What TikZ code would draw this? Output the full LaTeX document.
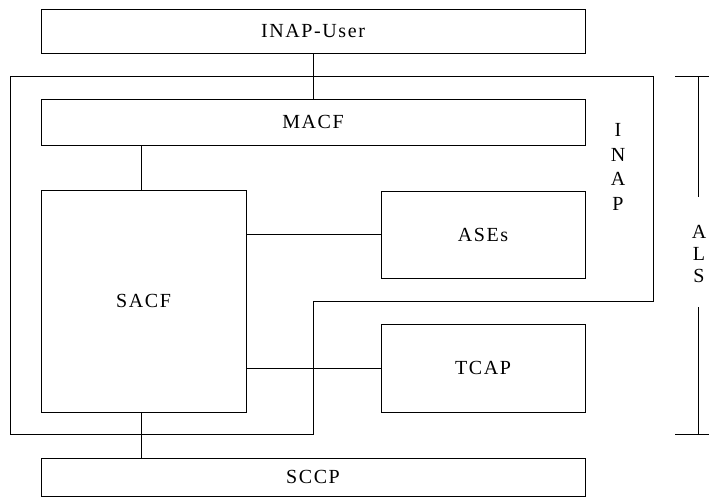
\documentclass[tikz,border=0pt]{standalone}
\usepackage{fontspec}
\setmainfont[LetterSpace=8]{Liberation Serif}
\begin{document}
\begin{tikzpicture}[x=1pt,y=-1pt,
  line width=1pt,
  every node/.style={font=\fontsize{20}{23}\selectfont},
  blk/.style={draw, rectangle, inner sep=0pt, outer sep=0pt},
  vlabel/.style={inner sep=0pt, anchor=center}]
\useasboundingbox (0,0) rectangle (709,499);
% blocks
\node[blk, minimum width=544pt, minimum height=44pt] (user) at (313,31) {INAP-User};
\node[blk, minimum width=544pt, minimum height=46pt] (macf) at (313,122) {MACF};
\node[blk, minimum width=205pt, minimum height=222pt] (sacf) at (143.5,301) {SACF};
\node[blk, minimum width=204pt, minimum height=87pt] (ases) at (483,234.5) {ASEs};
\node[blk, minimum width=204pt, minimum height=88pt] (tcap) at (483,368) {TCAP};
\node[blk, minimum width=544pt, minimum height=38pt] (sccp) at (313,477) {SCCP};
% INAP region outline
\draw (10,76) -- (653,76) -- (653,301) -- (313,301) -- (313,434) -- (10,434) -- cycle;
% INAP vertical label
\node[vlabel] (li) at (618,130) {I};
\node[vlabel] (ln) at (618,154.5) {N};
\node[vlabel] (la) at (618,179) {A};
\node[vlabel] (lp) at (618,203.5) {P};
% ALS bracket
\coordinate (bt) at (698,76);
\coordinate (bb) at (698,434);
\node[vlabel] (als1) at (699,232) {A};
\node[vlabel] (als2) at (699,254) {L};
\node[vlabel] (als3) at (699,276) {S};
\draw ([xshift=-23pt]bt) -- ([xshift=11pt]bt);
\draw ([xshift=-23pt]bb) -- ([xshift=11pt]bb);
\draw (bt) -- (bt |- 0,197);
\draw (bb) -- (bb |- 0,307);
% connectors
\draw (user) -- (macf);
\draw ([xshift=-2.5pt]macf.south -| sacf.north) -- ([xshift=-2.5pt]sacf.north);
\draw (ases.west -| sacf.east) -- (ases.west);
\draw (tcap.west -| sacf.east) -- (tcap.west);
\draw ([xshift=-2.5pt]sacf.south) -- ([xshift=-2.5pt]sacf.south |- sccp.north);
\end{tikzpicture}
\end{document}
